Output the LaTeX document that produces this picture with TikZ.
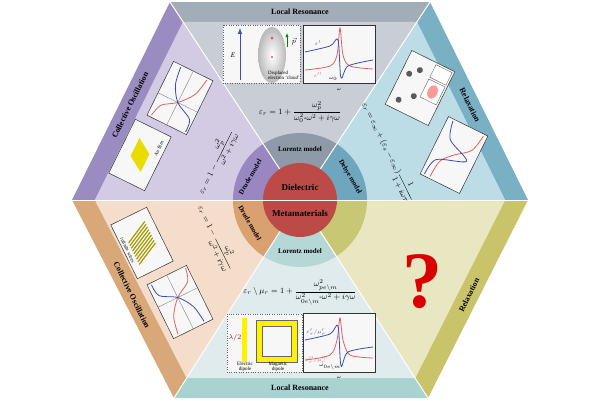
\documentclass[tikz,border=0pt]{standalone}
\usepackage{amsmath}
\usepackage{fontspec}
\setmainfont{Liberation Serif}
\usetikzlibrary{calc}

\definecolor{topband}{HTML}{A3ADB8}\definecolor{toplight}{HTML}{C9CED6}
\definecolor{ulband}{HTML}{9A8CC0}\definecolor{ullight}{HTML}{D2CBE3}
\definecolor{urband}{HTML}{79B0C4}\definecolor{urlight}{HTML}{BCDCE6}
\definecolor{llband}{HTML}{D9A878}\definecolor{lllight}{HTML}{F4DECB}
\definecolor{botband}{HTML}{A9D3D0}\definecolor{botlight}{HTML}{DFEBEC}
\definecolor{lrband}{HTML}{C9C46A}\definecolor{lrlight}{HTML}{E9E7C2}
\definecolor{coreRed}{HTML}{BC4B48}
\definecolor{ringTop}{HTML}{8E9AA8}\definecolor{ringUL}{HTML}{9A87C2}
\definecolor{ringUR}{HTML}{6FA6BD}\definecolor{ringLL}{HTML}{D9A070}
\definecolor{ringBot}{HTML}{B5D8D6}\definecolor{ringLR}{HTML}{C8C874}
\definecolor{curveBlue}{HTML}{3A4FB0}\definecolor{curveRed}{HTML}{E06060}

\tikzset{
  bandtext/.style={font=\bfseries\footnotesize},
  ringtext/.style={font=\bfseries\scriptsize},
  plotbox/.style={draw=black!80, fill=white!60!gray!15, line width=0.5pt},
  insetbox/.style={draw=black!60, dotted, fill=white!70!gray!20},
  tiny/.style={font=\fontsize{5}{5}\selectfont},
  eqn/.style={font=\footnotesize}
}

\begin{document}
\begin{tikzpicture}[x=1pt,y=-1pt]
    \useasboundingbox (0,0) rectangle (600,400);
    \fill[white] (0,0) rectangle (600,400);

    % hexagon corners
    \coordinate (C) at (300,200);
    \coordinate (TL) at (170,2);
    \coordinate (TR) at (430,2);
    \coordinate (R) at (528,200);
    \coordinate (BR) at (428,398);
    \coordinate (BL) at (174,398);
    \coordinate (L) at (72,200);

    % six sectors: band + light inner part
    \foreach \a/\b/\bd/\lt in {TL/TR/topband/toplight, TR/R/urband/urlight, R/BR/lrband/lrlight,
                                BR/BL/botband/botlight, BL/L/llband/lllight, L/TL/ulband/ullight}{
        \fill[\bd] (C) -- (\a) -- (\b) -- cycle;
        \fill[\lt] (C) -- ($(C)!0.9!(\a)$) -- ($(C)!0.9!(\b)$) -- cycle;
    }
    \foreach \v in {TL,TR,R,BR,BL,L}
        \draw[white, line width=1pt] (C) -- (\v);

    % band titles
    \node[bandtext] (tTop) at (300,12) {Local Resonance};
    \node[bandtext] (tBot) at (300,388) {Local Resonance};
    \node[bandtext, rotate=63.7] (tUL) at (130,105) {Collective Oscillation};
    \node[bandtext, rotate=-63.7] (tLL) at (132,295) {Collective Oscillation};
    \node[bandtext, rotate=-63.7] (tUR) at (470,105) {Relaxation};
    \node[bandtext, rotate=63.7] (tLR) at (469,295) {Relaxation};

    % model ring
    \foreach \s/\e/\col in {-123.3/-56.7/ringTop, -56.7/0/ringUR, 0/57.1/ringLR,
                           57.1/122.5/ringBot, 122.5/180/ringLL, 180/236.7/ringUL}
        \fill[\col] (C) -- ++(\s:67) arc[start angle=\s, end angle=\e, radius=67] -- cycle;
    \foreach \v in {TL,TR,R,BR,BL,L}
        \draw[white, line width=1pt] (C) -- ($(C)!67pt!(\v)$);
    \fill[coreRed] (C) circle[radius=37];
    \draw[white, line width=1pt] (263,200) -- (337,200);

    \node[ringtext] (lorTop) at (300,149) {Lorentz model};
    \node[ringtext] (lorBot) at (300,251) {Lorentz model};
    \node[ringtext, rotate=60] (druUp) at (250,177) {Drude model};
    \node[ringtext, rotate=-60] (debUp) at (350,177) {Debye model};
    \node[ringtext, rotate=-60] (druLo) at (250,223) {Drude model};
    \node[font=\bfseries\small] (diel) at (300,187) {Dielectric};
    \node[font=\bfseries\small] (meta) at (300,213) {Metamaterials};

    % top: Lorentz resonance
    \draw[insetbox] (223,25) rectangle (300,83);
    \shade[inner color=white, outer color=gray!55] (272,55) ellipse[x radius=14, y radius=28];
    \draw[curveBlue, line width=1pt, -latex] (240,80) -- (240,28);
    \node[font=\scriptsize\itshape] (eTop) at (233,55) {E};
    \fill[red!70] (272,38) circle[radius=1.5] (272,57) circle[radius=1.2];
    \draw[green!50!black, -latex] (287,47) -- (287,33);
    \node[font=\scriptsize\itshape] (pTop) at (294,42) {$\vec{p}$};
    \node[tiny, align=left] (cloud) at (284,75) {Displaced\\electron `cloud'};
    \draw[plotbox] (303,25) rectangle (375,83);
    \draw[curveRed, thick] plot[smooth] coordinates {(305,70) (330,66) (337,55) (340,28) (343,55) (350,66) (373,69)};
    \draw[curveBlue, thick] plot[smooth] coordinates {(305,52) (330,46) (338,40) (341,78) (348,66) (373,60)};
    \node[tiny, curveBlue] (epsT1) at (318,43) {$\varepsilon'$};
    \node[tiny, curveRed] (epsT2) at (318,75) {$\varepsilon''$};
    \node[tiny] (w0T) at (333,79) {$\omega_0$};
    \node[tiny] (wT) at (339,89) {$\omega$};
    \node[eqn] (eqTop) at (300,112) {$\varepsilon_r = 1+\dfrac{\omega_p^2}{\omega_0^2\text{-}\omega^2+i\gamma\omega}$};

    % upper left: Au film
    \begin{scope}[shift={(140,155)}, rotate=63.7]
        \draw[plotbox] (-30,-20) rectangle (30,20);
        \fill[yellow!80!olive] (-15,8) -- (5,8) -- (15,-8) -- (-5,-8) -- cycle;
        \node[tiny, rotate=63.7] (au) at (14,14) {Au film};
    \end{scope}
    \begin{scope}[shift={(180,98)}, rotate=63.7]
        \draw[plotbox] (-30,-22) rectangle (30,22);
        \draw[black!50] (-30,0) -- (30,0) (-5,-22) -- (-5,22);
        \draw[curveRed, thick] plot[smooth] coordinates {(-28,-18) (-15,-14) (-5,0) (10,12) (28,16)};
        \draw[curveBlue, thick] plot[smooth] coordinates {(-28,20) (-15,18) (-5,0) (10,-10) (28,-13)};
    \end{scope}
    \node[eqn, rotate=63.7] (eqUL) at (216,162) {$\varepsilon_r = 1-\dfrac{\omega_p^2}{\omega^2+i\gamma\omega}$};

    % lower left: infinite wires
    \begin{scope}[shift={(142,243)}, rotate=-63.7]
        \draw[plotbox] (-30,-20) rectangle (30,20);
        \foreach \k in {-12,-9,...,12}
            \draw[olive!80!yellow, line width=1.2pt] (\k-6,-12) -- (\k+6,12);
        \node[tiny, rotate=-63.7] (wires) at (0,16) {infinite wires};
    \end{scope}
    \begin{scope}[shift={(180,302)}, rotate=-63.7]
        \draw[plotbox] (-30,-22) rectangle (30,22);
        \draw[black!50] (-30,0) -- (30,0) (-5,-22) -- (-5,22);
        \draw[curveRed, thick] plot[smooth] coordinates {(-28,-20) (-15,-16) (-5,0) (10,12) (28,16)};
        \draw[curveBlue, thick] plot[smooth] coordinates {(-28,18) (-15,16) (-5,0) (10,-10) (28,-13)};
    \end{scope}
    \node[eqn, rotate=-63.7] (eqLL) at (216,238) {$\varepsilon_r = 1-\dfrac{\omega_p^2}{\omega^2+i\gamma\omega}$};

    % upper right: Debye relaxation
    \begin{scope}[shift={(420,88)}, rotate=63.7]
        \draw[plotbox] (-30,-24) rectangle (30,24);
        \foreach \p in {(-20,-14),(-10,-2),(8,-16),(16,-8)}
            \fill[gray!70!black] \p circle[radius=3];
        \draw[insetbox, solid, fill=white] (-8,4) rectangle (12,22);
        \draw[insetbox, solid, fill=white] (14,4) rectangle (28,22);
        \fill[red!40] (2,13) ellipse[x radius=7, y radius=5];
    \end{scope}
    \begin{scope}[shift={(454,155)}, rotate=63.7]
        \draw[plotbox] (-32,-22) rectangle (32,22);
        \draw[curveRed, thick] plot[smooth] coordinates {(-30,-12) (-12,-10) (0,0) (12,14) (30,18)};
        \draw[curveBlue, thick] plot[smooth] coordinates {(-30,-18) (-12,-14) (0,14) (12,-10) (30,-16)};
    \end{scope}
    \node[eqn, rotate=-63.7] (eqUR) at (388,152) {$\varepsilon_r=\varepsilon_\infty+(\varepsilon_s-\varepsilon_\infty)\dfrac{1}{1+i\omega\tau}$};

    % lower right: open question
    \node[text=red!85!black, font=\bfseries\fontsize{80}{80}\selectfont] (quest) at (422,282) {?};

    % bottom: metamaterial resonance
    \node[eqn] (eqBot) at (300,292) {$\varepsilon_r\setminus\mu_r = 1+\dfrac{\omega_{pe\backslash m}^2}{\omega_{0e\backslash m}^2\text{-}\omega^2+i\gamma\omega}$};
    \draw[insetbox] (227,314) rectangle (302,372);
    \fill[yellow] (242,318) rectangle (247,362);
    \node[font=\scriptsize\bfseries, red!70!black] (lam) at (235,338) {$\lambda/2$};
    \fill[yellow, even odd rule] (256,320) rectangle (297,362) (262,326) rectangle (291,356);
    \draw[black!60, thin] (256,320) rectangle (297,362) (262,326) rectangle (291,356);
    \node[tiny, align=center] (edip) at (245,367) {Electric\\dipole};
    \node[tiny, align=center] (mdip) at (278,367) {Magnetic\\dipole};
    \draw[plotbox] (303,313) rectangle (375,372);
    \draw[curveRed, thick] plot[smooth] coordinates {(305,360) (330,355) (337,340) (340,318) (343,340) (350,355) (373,358)};
    \draw[curveBlue, thick] plot[smooth] coordinates {(305,340) (330,334) (338,326) (341,366) (348,352) (373,347)};
    \node[tiny, curveBlue] (mT1) at (316,332) {$\varepsilon_r'/\mu_r'$};
    \node[tiny, curveRed] (mT2) at (316,360) {$\varepsilon_r''/\mu_r''$};
    \node[tiny] (w0B) at (330,367) {$\omega_{0e\backslash m}$};
    \node[tiny] (wB) at (339,377) {$\omega$};
\end{tikzpicture}
\end{document}
